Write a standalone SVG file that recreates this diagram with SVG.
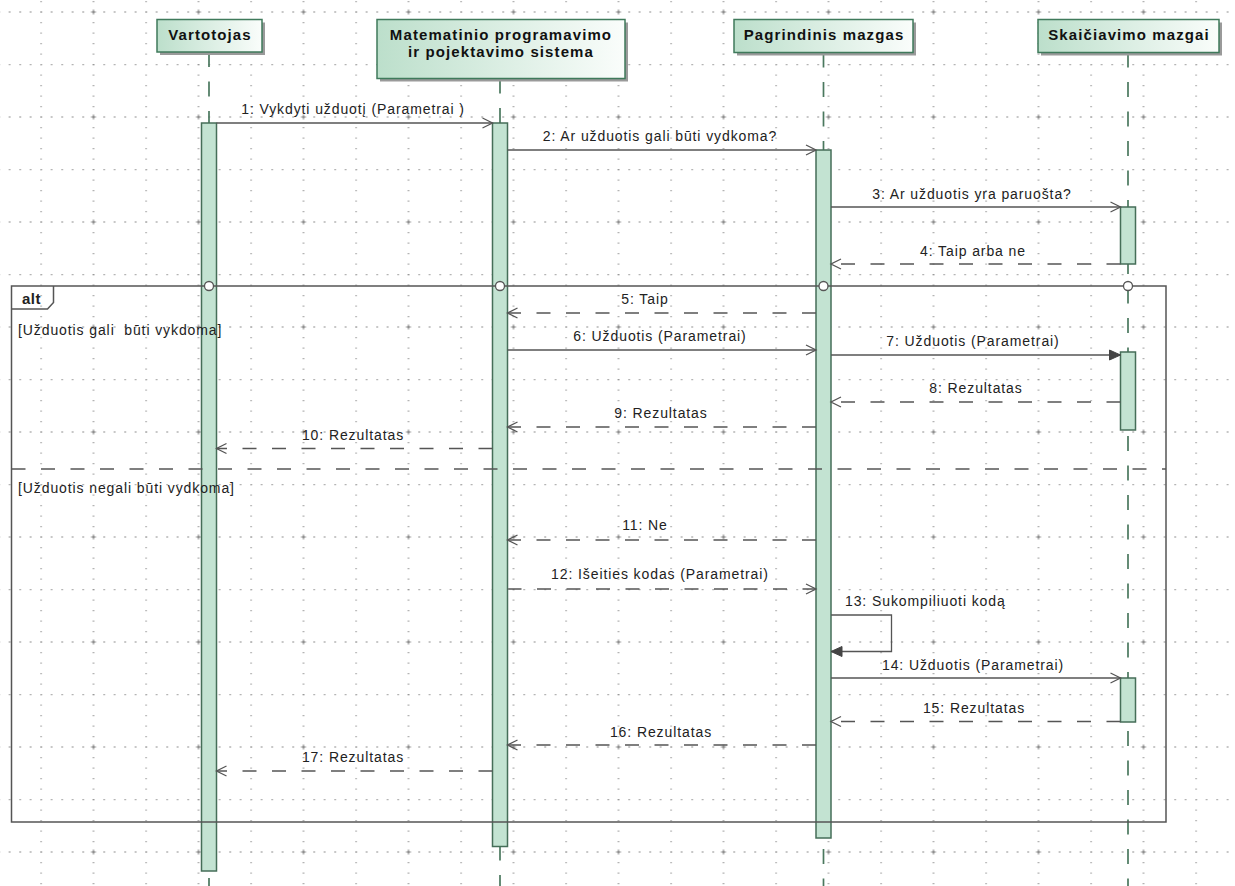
<svg xmlns="http://www.w3.org/2000/svg" width="1235" height="886" viewBox="0 0 1235 886">
<style>
.lbl{font-family:"Liberation Sans",Arial,sans-serif;font-size:14px;letter-spacing:0.9px;fill:#222}
.mid{text-anchor:middle}
.hdr{font-family:"Liberation Sans",Arial,sans-serif;font-size:15px;font-weight:bold;letter-spacing:1.1px;fill:#111;text-anchor:middle}
.box{fill:url(#boxg);stroke:#3f7a5b;stroke-width:1.5}
.shadow{fill:#9a9a9a}
.life{stroke:#4a785e;stroke-width:1.7;stroke-dasharray:15 14.5;fill:none}
.act{fill:#c3e3d2;stroke:#456e58;stroke-width:1.5}
.frame{fill:none;stroke:#555;stroke-width:1.5}
.sep{stroke:#555;stroke-width:1.5;stroke-dasharray:14 15.5}
.msg{stroke:#555;stroke-width:1.3;fill:none;marker-end:url(#open)}
.ret{stroke:#555;stroke-width:1.3;fill:none;stroke-dasharray:14 15.5;marker-end:url(#open)}
.syn{stroke:#555;stroke-width:1.3;fill:none;marker-end:url(#filled)}
.circ{fill:#fff;stroke:#555;stroke-width:1.3}
</style>
<defs>
<linearGradient id="boxg" x1="0" y1="0" x2="1" y2="0">
<stop offset="0" stop-color="#bcdfcb"/>
<stop offset="1" stop-color="#fafdfb"/>
</linearGradient>
<pattern id="grid" patternUnits="userSpaceOnUse" x="40.5" y="-41" width="105" height="105">
<g stroke="#8c8c8c" stroke-width="1.3" stroke-dasharray="1.3 9.2" fill="none">
<line x1="0" y1="0.5" x2="105" y2="0.5"/>
<line x1="0" y1="53" x2="105" y2="53"/>
<line x1="0.5" y1="0" x2="0.5" y2="105"/>
<line x1="53" y1="0" x2="53" y2="105"/>
</g>
<path d="M50.5 53H55.5M53 50.5V55.5" stroke="#888" stroke-width="1.2"/>
</pattern>
<marker id="open" markerUnits="userSpaceOnUse" markerWidth="14" markerHeight="14" refX="11" refY="6" orient="auto">
<path d="M1 1L11 6L1 11" fill="none" stroke="#555" stroke-width="1.3" stroke-dasharray="none"/>
</marker>
<marker id="filled" markerUnits="userSpaceOnUse" markerWidth="14" markerHeight="14" refX="12" refY="6" orient="auto">
<path d="M1 1L12 6L1 11z" fill="#444" stroke="#444" stroke-width="1" stroke-dasharray="none"/>
</marker>
</defs>
<rect width="1235" height="886" fill="#fff"/>
<rect width="1235" height="886" fill="url(#grid)"/>

<g id="lifelines">
<line class="life" x1="209" y1="52" x2="209" y2="886"/>
<line class="life" x1="500" y1="78.5" x2="500" y2="886"/>
<line class="life" x1="823.5" y1="52.5" x2="823.5" y2="886"/>
<line class="life" x1="1128" y1="52.5" x2="1128" y2="886"/>
</g>

<g id="activations">
<rect class="act" x="201.5" y="123" width="15" height="748"/>
<rect class="act" x="492.5" y="123" width="15" height="723.5"/>
<rect class="act" x="816" y="150" width="15" height="688"/>
<rect class="act" x="1120.5" y="207" width="15" height="57"/>
<rect class="act" x="1120.5" y="352" width="15" height="78"/>
<rect class="act" x="1120.5" y="678" width="15" height="44"/>
</g>

<g id="alt-frame">
<rect class="frame" x="11.5" y="286" width="1154.5" height="536"/>
<path class="frame" d="M11.5 309H47.5L53.5 302.5V286"/>
<text x="22" y="304" class="lbl" style="font-weight:bold;font-size:15px;letter-spacing:0.5px">alt</text>
<line class="sep" x1="11.5" y1="469" x2="1166" y2="469"/>
<text x="18" y="335" class="lbl" xml:space="preserve">[Užduotis gali  būti vykdoma]</text>
<text x="18" y="493" class="lbl">[Užduotis negali būti vydkoma]</text>
</g>

<g id="connectors">
<line class="msg" x1="216.5" y1="123" x2="492.5" y2="123"/>
<line class="msg" x1="507.5" y1="150" x2="816" y2="150"/>
<line class="msg" x1="831" y1="207" x2="1120.5" y2="207"/>
<line class="ret" x1="1120.5" y1="264" x2="831" y2="264"/>
<line class="ret" x1="816" y1="313" x2="507.5" y2="313"/>
<line class="msg" x1="507.5" y1="350" x2="816" y2="350"/>
<line class="syn" x1="831" y1="355" x2="1120.5" y2="355"/>
<line class="ret" x1="1120.5" y1="402" x2="831" y2="402"/>
<line class="ret" x1="816" y1="427" x2="507.5" y2="427"/>
<line class="ret" x1="492.5" y1="448.5" x2="216.5" y2="448.5"/>
<line class="ret" x1="816" y1="540" x2="507.5" y2="540"/>
<line class="ret" x1="507.5" y1="589" x2="816" y2="589"/>
<path class="syn" d="M831 615H891.5V651.5H831"/>
<line class="msg" x1="831" y1="678" x2="1120.5" y2="678"/>
<line class="ret" x1="1120.5" y1="721.5" x2="831" y2="721.5"/>
<line class="ret" x1="816" y1="745" x2="507.5" y2="745"/>
<line class="ret" x1="492.5" y1="771" x2="216.5" y2="771"/>
</g>

<g id="labels">
<text class="lbl mid" x="353" y="114">1: Vykdyti užduotį (Parametrai )</text>
<text class="lbl mid" x="660" y="141">2: Ar užduotis gali būti vydkoma?</text>
<text class="lbl mid" x="972" y="199">3: Ar užduotis yra paruošta?</text>
<text class="lbl mid" x="973" y="256">4: Taip arba ne</text>
<text class="lbl mid" x="645" y="304">5: Taip</text>
<text class="lbl mid" x="660" y="341">6: Užduotis (Parametrai)</text>
<text class="lbl mid" x="973" y="346">7: Užduotis (Parametrai)</text>
<text class="lbl mid" x="976" y="393">8: Rezultatas</text>
<text class="lbl mid" x="661" y="418">9: Rezultatas</text>
<text class="lbl mid" x="353" y="440">10: Rezultatas</text>
<text class="lbl mid" x="645" y="530">11: Ne</text>
<text class="lbl mid" x="660" y="579">12: Išeities kodas (Parametrai)</text>
<text class="lbl" x="845" y="606">13: Sukompiliuoti kodą</text>
<text class="lbl mid" x="973" y="670">14: Užduotis (Parametrai)</text>
<text class="lbl mid" x="974" y="713">15: Rezultatas</text>
<text class="lbl mid" x="661" y="737">16: Rezultatas</text>
<text class="lbl mid" x="353" y="762">17: Rezultatas</text>
</g>

<g id="frame-points">
<circle class="circ" cx="209" cy="286" r="4.5"/>
<circle class="circ" cx="500" cy="286" r="4.5"/>
<circle class="circ" cx="823.5" cy="286" r="4.5"/>
<circle class="circ" cx="1128" cy="286" r="4.5"/>
</g>

<g id="vartotojas">
<rect class="shadow" x="160" y="22.5" width="105" height="32.5"/>
<rect class="box" x="157" y="19.5" width="105" height="32.5"/>
<text class="hdr" x="210" y="40">Vartotojas</text>
</g>
<g id="matematinio">
<rect class="shadow" x="380" y="22.5" width="248" height="59"/>
<rect class="box" x="377" y="19.5" width="248" height="59"/>
<text class="hdr" x="501" y="39.5">Matematinio programavimo</text>
<text class="hdr" x="501" y="57">ir pojektavimo sistema</text>
</g>
<g id="pagrindinis">
<rect class="shadow" x="737" y="22.5" width="179" height="33"/>
<rect class="box" x="734" y="19.5" width="179" height="33"/>
<text class="hdr" x="824" y="40">Pagrindinis mazgas</text>
</g>
<g id="skaiciavimo">
<rect class="shadow" x="1041" y="22.5" width="181" height="33"/>
<rect class="box" x="1038" y="19.5" width="181" height="33"/>
<text class="hdr" x="1129" y="40">Skaičiavimo mazgai</text>
</g>
</svg>
